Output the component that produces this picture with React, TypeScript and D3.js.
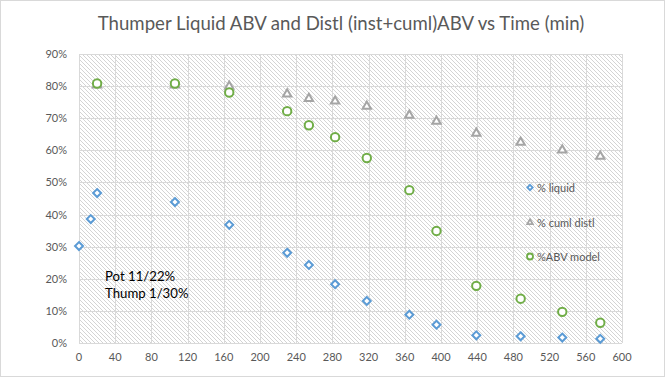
import React from "react";
import * as d3 from "d3";

const liquidTime = [0, 13, 20, 106, 166, 230, 254, 283, 318, 365, 395, 439, 488, 534, 576];
const liquidAbv = [0.302, 0.386, 0.467, 0.439, 0.368, 0.281, 0.243, 0.183, 0.131, 0.088, 0.057, 0.024, 0.021, 0.017, 0.013];

const cumlTime = [20, 106, 166, 230, 254, 283, 318, 365, 395, 439, 488, 534, 576];
const cumlAbv = [0.803, 0.803, 0.799, 0.775, 0.761, 0.753, 0.737, 0.709, 0.690, 0.653, 0.625, 0.601, 0.581];

const modelTime = [20, 106, 166, 230, 254, 283, 318, 365, 395, 439, 488, 534, 576];
const modelAbv = [0.808, 0.808, 0.780, 0.722, 0.678, 0.641, 0.576, 0.476, 0.349, 0.178, 0.138, 0.097, 0.063];

const xTicks = [0, 40, 80, 120, 160, 200, 240, 280, 320, 360, 400, 440, 480, 520, 560, 600];
const yTicks = [0, 0.1, 0.2, 0.3, 0.4, 0.5, 0.6, 0.7, 0.8, 0.9];

const title = "Thumper Liquid ABV and Distl (inst+cuml)ABV vs Time (min)";
const legendLabels = ["% liquid", "% cuml distl", "%ABV model"];
const noteLines = ["Pot 11/22%", "Thump 1/30%"];

const W = 665, H = 377;
const FONT = "Lato, 'Open Sans', sans-serif";
const BLUE = "#5b9bd5", GRAY = "#a5a5a5", GREEN = "#70ad47", TXT = "#595959";

const x = d3.scaleLinear().domain([0, 600]).range([79, 622]);
const y = d3.scaleLinear().domain([0, 0.9]).range([343, 54]);

const diamond = d3.symbol().type(d3.symbolDiamond2).size(40)();
const triangle = d3.symbol().type(d3.symbolTriangle2).size(50)();

function Diamond({ cx, cy }: { cx: number; cy: number }) {
  return <path d={diamond} transform={`translate(${cx},${cy})`} fill="#fff" stroke={BLUE} strokeWidth={2} />;
}
function Tri({ cx, cy }: { cx: number; cy: number }) {
  return <path d={triangle} transform={`translate(${cx},${cy})`} fill="#fff" stroke={GRAY} strokeWidth={2} />;
}
function Circ({ cx, cy }: { cx: number; cy: number }) {
  return <circle cx={cx} cy={cy} r={4.2} fill="#fff" stroke={GREEN} strokeWidth={2} />;
}

export default function App() {
  const [x0, x1] = x.range();
  const [y0, y1] = y.range();
  const legY = [187.5, 222.5, 256.5];
  const legX = 530;
  return (
    <div>
      <style>{`body{margin:0}`}</style>
      <svg width={W} height={H} style={{ display: "block" }}>
        <defs>
          <pattern id="hatch" patternUnits="userSpaceOnUse" width={4} height={4}>
            <rect width={4} height={4} fill="#fff" />
            <path d="M-1,-1 L5,5 M-1,3 L1,5 M3,-1 L5,1" stroke="#d4d4d4" strokeWidth={1} />
          </pattern>
        </defs>
        <rect x={0.5} y={0.5} width={W - 1} height={H - 1} fill="#fff" stroke="#d9d9d9" />
        <text x={341} y={30} textAnchor="middle" fontFamily={FONT} fontSize={18.6} fill={TXT}>{title}</text>
        <rect x={x0} y={y1} width={x1 - x0} height={y0 - y1} fill="url(#hatch)" />
        {xTicks.map((t) => (
          <line key={"gx" + t} x1={Math.round(x(t)) + 0.5} x2={Math.round(x(t)) + 0.5} y1={y1} y2={y0} stroke="#d9d9d9" />
        ))}
        {yTicks.map((t) => (
          <line key={"gy" + t} x1={x0} x2={x1} y1={Math.round(y(t)) + 0.5} y2={Math.round(y(t)) + 0.5} stroke="#d9d9d9" />
        ))}
        {yTicks.map((t) => (
          <text key={"ty" + t} x={67} y={y(t) + 4} textAnchor="end" fontFamily={FONT} fontSize={11} fill={TXT}>
            {d3.format(".0%")(t)}
          </text>
        ))}
        {xTicks.map((t) => (
          <text key={"tx" + t} x={x(t)} y={361} textAnchor="middle" fontFamily={FONT} fontSize={11} fill={TXT}>
            {t}
          </text>
        ))}
        {liquidTime.map((t, i) => <Diamond key={"l" + i} cx={x(t)} cy={y(liquidAbv[i])} />)}
        {cumlTime.map((t, i) => <Tri key={"c" + i} cx={x(t)} cy={y(cumlAbv[i])} />)}
        {modelTime.map((t, i) => <Circ key={"m" + i} cx={x(t)} cy={y(modelAbv[i])} />)}
        <g>
          <path d={d3.symbol().type(d3.symbolDiamond2).size(18)()} transform={`translate(${legX},${legY[0]})`} fill="#fff" stroke={BLUE} strokeWidth={1.8} />
          <path d={d3.symbol().type(d3.symbolTriangle2).size(22)()} transform={`translate(${legX},${legY[1]})`} fill="#fff" stroke={GRAY} strokeWidth={1.8} />
          <circle cx={legX} cy={legY[2]} r={3} fill="#fff" stroke={GREEN} strokeWidth={1.8} />
          {legendLabels.map((l, i) => (
            <text key={l} x={537} y={legY[i] + 4} fontFamily={FONT} fontSize={11} fill={TXT}>{l}</text>
          ))}
        </g>
        {noteLines.map((l, i) => (
          <text key={l} x={105} y={281 + i * 17} fontFamily={FONT} fontSize={13.2} fill="#000">{l}</text>
        ))}
      </svg>
    </div>
  );
}
